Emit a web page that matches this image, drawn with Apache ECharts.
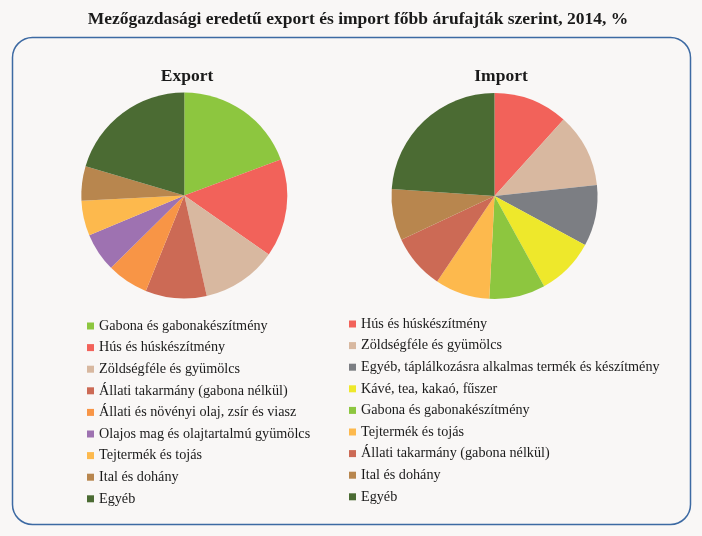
<!DOCTYPE html>
<html>
<head>
<meta charset="utf-8">
<script src="https://cdn.jsdelivr.net/npm/echarts@6/dist/echarts.min.js"></script>
<style>
html,body{margin:0;padding:0;background:#f9f7f6;}
#c{width:702px;height:536px;}
</style>
</head>
<body>
<div id="c"></div>
<script>
var exportNames = ['Gabona és gabonakészítmény','Hús és húskészítmény','Zöldségféle és gyümölcs','Állati takarmány (gabona nélkül)','Állati és növényi olaj, zsír és viasz','Olajos mag és olajtartalmú gyümölcs','Tejtermék és tojás','Ital és dohány','Egyéb'];
var exportValues = [19.3, 15.4, 11.8, 9.6, 6.5, 6.1, 5.5, 5.4, 20.4];
var importNames = ['Hús és húskészítmény','Zöldségféle és gyümölcs','Egyéb, táplálkozásra alkalmas termék és készítmény','Kávé, tea, kakaó, fűszer','Gabona és gabonakészítmény','Tejtermék és tojás','Állati takarmány (gabona nélkül)','Ital és dohány','Egyéb'];
var importValues = [11.7, 11.6, 9.6, 9.1, 8.8, 8.6, 8.6, 8.1, 23.9];
var colorMap = {
  'Gabona és gabonakészítmény':'#8dc63f',
  'Hús és húskészítmény':'#f2625a',
  'Zöldségféle és gyümölcs':'#d8b8a0',
  'Állati takarmány (gabona nélkül)':'#cc6a55',
  'Állati és növényi olaj, zsír és viasz':'#f89546',
  'Olajos mag és olajtartalmú gyümölcs':'#9e72b1',
  'Tejtermék és tojás':'#fdb94d',
  'Ital és dohány':'#b8864e',
  'Egyéb':'#4b6b33',
  'Egyéb, táplálkozásra alkalmas termék és készítmény':'#7c7e83',
  'Kávé, tea, kakaó, fűszer':'#eee82b'
};
function mk(names, values){
  return names.map(function(n,i){return {name:n, value:values[i], itemStyle:{color:colorMap[n]}};});
}
var font = '"Liberation Serif", "DejaVu Serif", serif';
var chart = echarts.init(document.getElementById('c'));
var legendCommon = {
  orient:'vertical', icon:'rect', itemWidth:7, itemHeight:7, itemGap:7.6,
  itemStyle:{borderWidth:0},
  textStyle:{fontFamily:font, fontSize:14.2, color:'#1a1a1a'},
  selectedMode:false
};
chart.setOption({
  backgroundColor:'#f9f7f6',
  animation:false,
  graphic:[{
    type:'rect', shape:{x:12.5, y:37.5, width:678, height:487, r:20},
    style:{fill:'#f9f7f6', stroke:'#3d6aa3', lineWidth:1.5}, z:-10
  }],
  title:[
    {text:'Mezőgazdasági eredetű export és import főbb árufajták szerint, 2014, %', left:353, top:5, textAlign:'center',
     textStyle:{fontFamily:font, fontSize:17.5, fontWeight:'bold', color:'#1a1a1a'}},
    {text:'Export', left:182, top:62, textAlign:'center',
     textStyle:{fontFamily:font, fontSize:17.5, fontWeight:'bold', color:'#1a1a1a'}},
    {text:'Import', left:496, top:62, textAlign:'center',
     textStyle:{fontFamily:font, fontSize:17.5, fontWeight:'bold', color:'#1a1a1a'}}
  ],
  legend:[
    Object.assign({}, legendCommon, {left:82, top:314, data:exportNames}),
    Object.assign({}, legendCommon, {left:344, top:312, data:importNames})
  ],
  series:[
    {type:'pie', center:[184.3,195.5], radius:103, startAngle:90, clockwise:true,
     label:{show:false}, labelLine:{show:false}, silent:true,
     data:mk(exportNames, exportValues)},
    {type:'pie', center:[494.5,196], radius:103, startAngle:90, clockwise:true,
     label:{show:false}, labelLine:{show:false}, silent:true,
     data:mk(importNames, importValues)}
  ]
});
</script>
</body>
</html>
